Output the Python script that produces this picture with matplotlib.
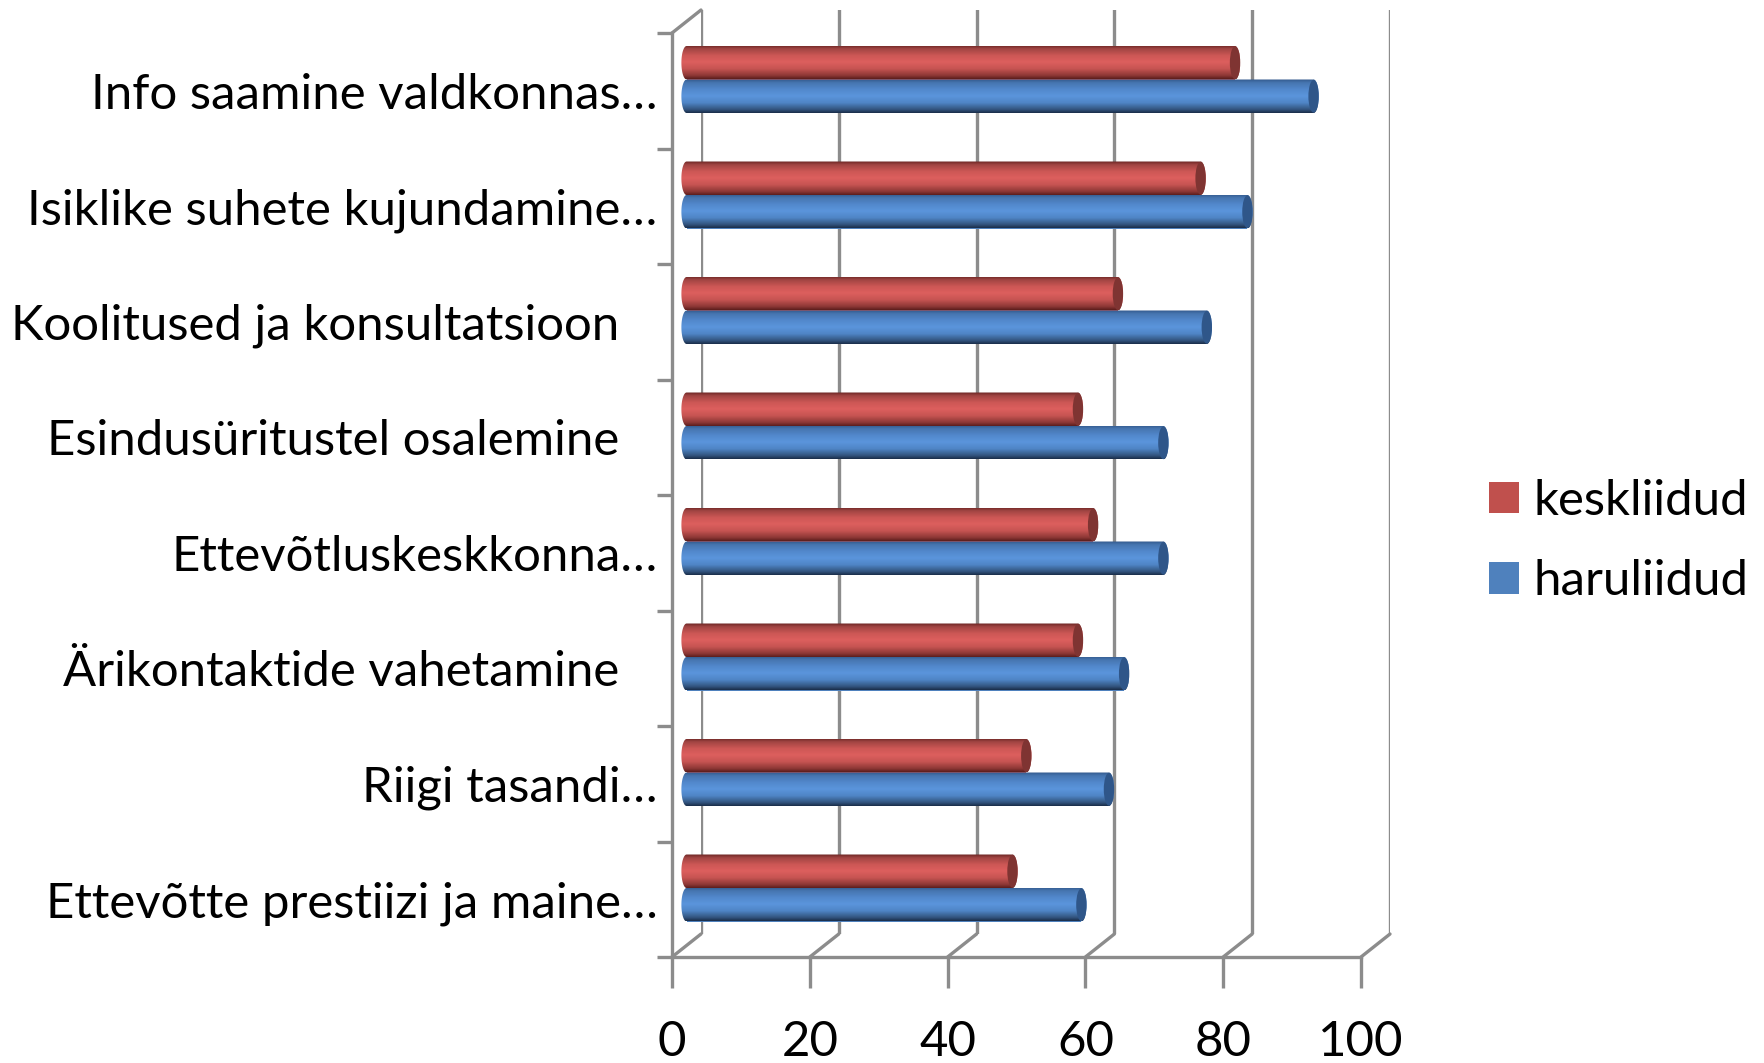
import numpy as np
import matplotlib
matplotlib.use("Agg")
import matplotlib.pyplot as plt
from matplotlib.colors import LinearSegmentedColormap
from matplotlib.patches import Ellipse, Patch, ConnectionPatch, PathPatch
from matplotlib.path import Path

NBSP = "\u00a0"
categories = ["Ettevõtte prestiizi ja maine…", "Riigi tasandi…",
              "Ärikontaktide vahetamine" + NBSP * 3, "Ettevõtluskeskkonna…",
              "Esindusüritustel osalemine" + NBSP * 3, "Koolitused ja konsultatsioon" + NBSP * 3,
              "Isiklike suhete kujundamine…", "Info saamine valdkonnas…"]
keskliidud = [47.3, 49.3, 56.8, 59.0, 56.8, 62.6, 74.6, 79.6]
haruliidud = [57.3, 61.3, 63.5, 69.2, 69.2, 75.5, 81.4, 91.0]
x_ticks = [0, 20, 40, 60, 80, 100]

W, H = 1764, 1063
FONT = "Lato"
FS = 35.4
GRID = "#8c8c8c"
LW = 2.4

fig = plt.figure(figsize=(W / 100, H / 100), dpi=100, facecolor="white")

def axes_px(x0, x1, y_top, y_bot, **kw):
    return fig.add_axes([x0 / W, 1 - y_bot / H, (x1 - x0) / W, (y_bot - y_top) / H], **kw)

FX0, FX1, FT, FB = 672, 1361, 33, 957
DX, DY = 29, 23
n = len(categories)

# back wall
back = axes_px(FX0 + DX, FX1 + DX, FT - DY, FB - DY, facecolor="none")
back.set_xlim(0, 100); back.set_ylim(0, n)
back.set_xticks(x_ticks); back.set_yticks([])
back.tick_params(length=0, labelbottom=False)
back.grid(axis="x", color=GRID, lw=LW)
for s in back.spines.values():
    s.set_visible(False)

# front frame with axes, ticks and labels
ax = axes_px(FX0, FX1, FT, FB, facecolor="none")
ax.set_xlim(0, 100); ax.set_ylim(0, n)
ax.set_xticks(x_ticks)
ax.set_xticklabels([str(t) for t in x_ticks], fontsize=FS, family=FONT, color="black")
ax.set_yticks(np.arange(n + 1))
ax.set_yticklabels([])
ax.set_yticks(np.arange(n) + 0.5, minor=True)
ax.set_yticklabels(categories, minor=True, fontsize=FS, family=FONT, color="black")
ax.tick_params(axis="y", which="major", length=11, width=LW, color=GRID)
ax.tick_params(axis="y", which="minor", length=0, pad=10.5)
ax.tick_params(axis="x", which="major", length=22, width=LW, color=GRID, pad=23)
for k, s in ax.spines.items():
    s.set_visible(k in ("left", "bottom"))
    s.set_color(GRID); s.set_linewidth(LW)

# depth connectors
for t in x_ticks:
    fig.add_artist(ConnectionPatch((t, 0), (t, 0), coordsA=ax.transData, coordsB=back.transData,
                                   color=GRID, lw=LW))
fig.add_artist(ConnectionPatch((0, n), (0, n), coordsA=ax.transData, coordsB=back.transData,
                               color=GRID, lw=LW))

# bars plane, half way into the depth; starts left of zero so the rounded ends fit
PXU = (FX1 - FX0) / 100
XPAD = 2.0
bx = axes_px(FX0 + 14.6 - XPAD * PXU, FX1 + 14.6, FT - 11.25, FB - 11.25, facecolor="none")
bx.axis("off")

red_cm = LinearSegmentedColormap.from_list("r", [(0, "#6b2624"), (0.1, "#a04442"), (0.3, "#cc5755"),
                                                 (0.5, "#dd5f5e"), (0.7, "#c65452"), (0.9, "#8e3836"), (1, "#5e1e1d")])
blue_cm = LinearSegmentedColormap.from_list("b", [(0, "#33598c"), (0.1, "#4675b0"), (0.3, "#5288cc"),
                                                  (0.5, "#5b95dc"), (0.7, "#4f85c6"), (0.9, "#33557f"), (1, "#1b2f4b")])
grad = np.linspace(0, 1, 64).reshape(-1, 1)
BH = 33.5 / ((FB - FT) / n)
CAP = 5.2 / PXU

def cyl(vals, ys, cmap, mid, cap):
    for r in bx.barh(ys, vals, height=BH, color=mid, linewidth=0, zorder=2):
        v = r.get_width(); yc = r.get_y() + BH / 2
        t = np.linspace(-np.pi / 2, np.pi / 2, 40)
        xs = np.r_[v + CAP * np.cos(t), -CAP * np.cos(t[::-1])]
        yy = np.r_[yc + BH / 2 * np.sin(t), yc + BH / 2 * np.sin(t[::-1])]
        clip = PathPatch(Path(np.c_[xs, yy]), transform=bx.transData, fc="none", ec="none")
        bx.add_patch(clip)
        im = bx.imshow(grad, cmap=cmap, aspect="auto", vmin=0, vmax=1, zorder=3,
                       extent=[-CAP, v + CAP, yc - BH / 2, yc + BH / 2], origin="upper")
        im.set_clip_path(clip)
        bx.add_patch(Ellipse((v, yc), 2 * CAP, BH * 0.98, fc=cap, ec="none", zorder=4))

ypos = np.arange(n) + 0.5
cyl(keskliidud, ypos + BH / 2, red_cm, "#c0504d", "#7f3432")
cyl(haruliidud, ypos - BH / 2, blue_cm, "#4f81bd", "#2f5689")
bx.set_xlim(-XPAD, 100); bx.set_ylim(0, n)

leg = fig.legend(handles=[Patch(fc="#c0504d", label="keskliidud"), Patch(fc="#4f81bd", label="haruliidud")],
                 loc="center left", bbox_to_anchor=(1489 / W, 1 - 541 / H), frameon=False,
                 prop={"family": FONT, "size": FS}, handlelength=0.61, handleheight=0.61,
                 handletextpad=0.3, labelspacing=0.74, borderpad=0, borderaxespad=0)
for h in leg.get_patches():
    h.set_linewidth(0)

fig.savefig("out.png", dpi=100, facecolor="white")
